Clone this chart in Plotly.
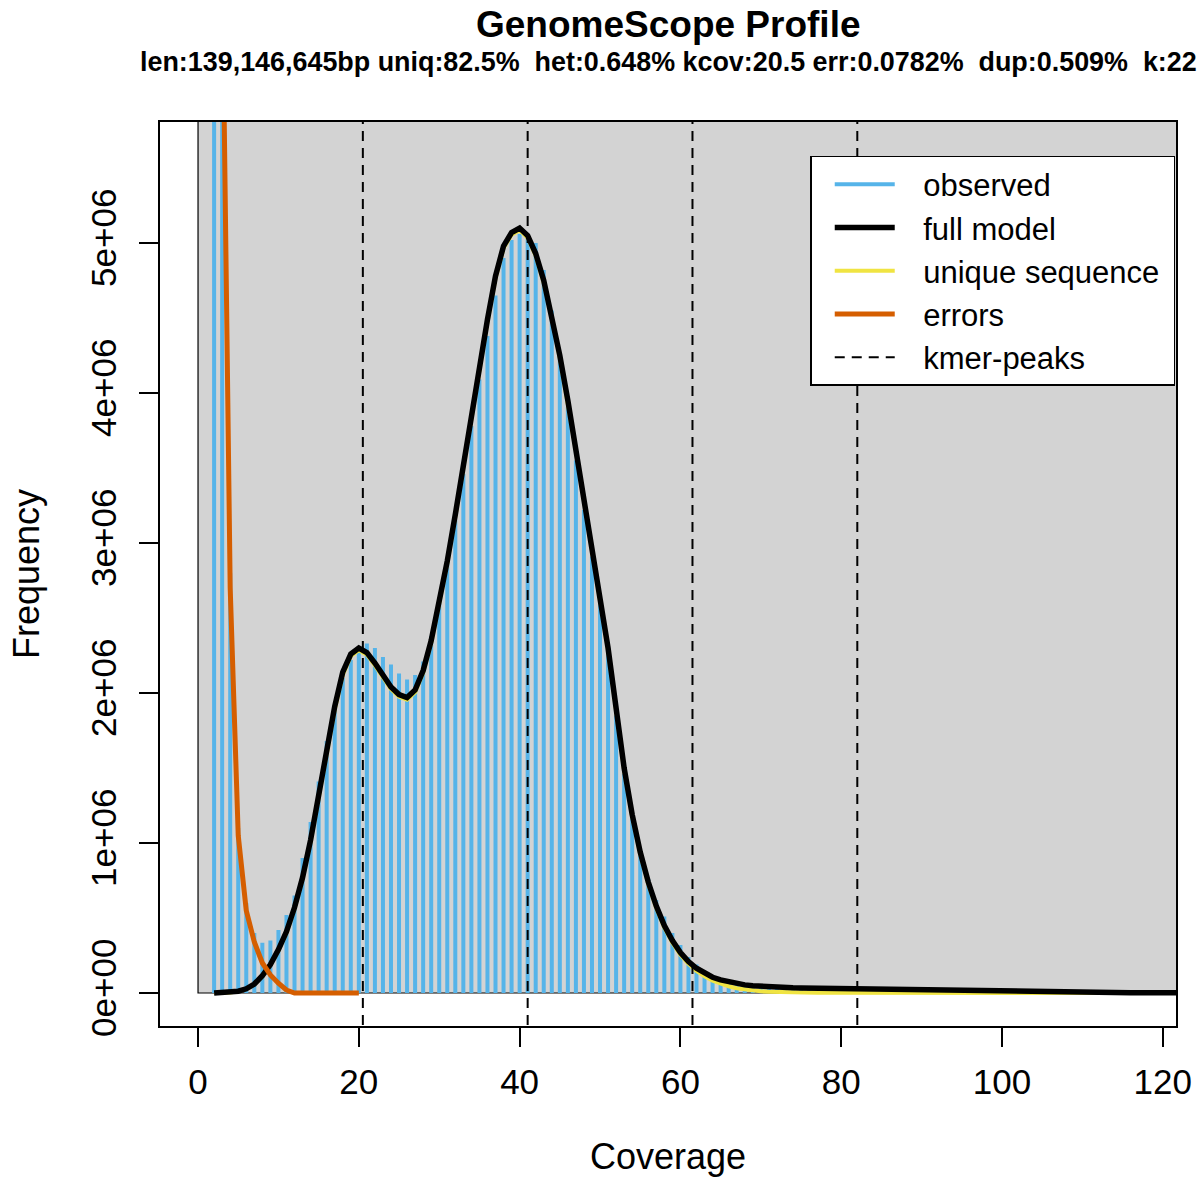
import plotly.graph_objects as go

# ---------------- data (values in k-mer counts) ----------------
coverage = list(range(2, 121))

observed = [
    12.0, 7.0, 2.8, 1.1, 0.60, 0.40, 0.335, 0.35, 0.42, 0.52,      # 2-11
    0.65, 0.90, 1.14, 1.41, 1.68, 1.91, 2.10, 2.22, 2.28, 2.33,     # 12-21
    2.30, 2.24, 2.19, 2.13, 2.09, 2.12, 2.21, 2.38, 2.61, 2.89,     # 22-31
    3.15, 3.46, 3.78, 4.09, 4.38, 4.65, 4.90, 5.02, 5.06, 5.04,     # 32-41
    5.00, 4.82, 4.55, 4.24, 3.91, 3.55, 3.22, 2.91, 2.62, 2.29,     # 42-51
    1.85, 1.46, 1.18, 0.95, 0.76, 0.62, 0.51, 0.40, 0.32, 0.24,     # 52-61
    0.19, 0.14, 0.113, 0.091, 0.075, 0.064, 0.060, 0.057, 0.054, 0.050,  # 62-71
    0.047, 0.045, 0.042, 0.040, 0.036, 0.034, 0.032, 0.031, 0.030, 0.029,  # 72-81
    0.028, 0.028, 0.027, 0.026, 0.025, 0.024, 0.023, 0.022, 0.021, 0.020,  # 82-91
    0.019, 0.018, 0.017, 0.016, 0.015, 0.014, 0.013, 0.012, 0.011, 0.010,  # 92-101
    0.009, 0.008, 0.008, 0.007, 0.006, 0.006, 0.005, 0.005, 0.004, 0.004,  # 102-111
    0.003, 0.003, 0.003, 0.002, 0.002, 0.002, 0.002, 0.001, 0.001,         # 112-120
]

model_cov = list(range(2, 123))
full_model = [
    0.000, 0.001, 0.004, 0.012, 0.028, 0.060, 0.115, 0.19, 0.29, 0.41,   # 2-11
    0.57, 0.77, 1.02, 1.31, 1.62, 1.91, 2.14, 2.26, 2.30, 2.27,          # 12-21
    2.20, 2.12, 2.04, 1.99, 1.97, 2.02, 2.15, 2.35, 2.60, 2.88,          # 22-31
    3.19, 3.52, 3.86, 4.18, 4.49, 4.78, 4.98, 5.07, 5.10, 5.05,          # 32-41
    4.93, 4.75, 4.52, 4.25, 3.95, 3.63, 3.30, 2.97, 2.64, 2.30,          # 42-51
    1.90, 1.50, 1.19, 0.94, 0.74, 0.58, 0.45, 0.35, 0.27, 0.21,          # 52-61
    0.165, 0.13, 0.105, 0.087, 0.073, 0.062, 0.054, 0.048, 0.044, 0.041, # 62-71
    0.039, 0.037, 0.035, 0.034, 0.033, 0.032, 0.031, 0.030, 0.030, 0.029,  # 72-81
    0.029, 0.028, 0.028, 0.027, 0.026, 0.025, 0.024, 0.023, 0.022, 0.021,  # 82-91
    0.019, 0.018, 0.017, 0.016, 0.015, 0.014, 0.013, 0.012, 0.011, 0.010,  # 92-101
    0.009, 0.008, 0.008, 0.007, 0.006, 0.006, 0.005, 0.005, 0.004, 0.004,  # 102-111
    0.003, 0.003, 0.003, 0.002, 0.002, 0.002, 0.002, 0.001, 0.001, 0.001, 0.001,  # 112-122
]

unique_seq = [
    0.000, 0.001, 0.004, 0.011, 0.026, 0.057, 0.111, 0.185, 0.283, 0.40,  # 2-11
    0.56, 0.76, 1.01, 1.30, 1.61, 1.89, 2.12, 2.245, 2.285, 2.255,        # 12-21
    2.185, 2.105, 2.025, 1.975, 1.955, 2.005, 2.135, 2.335, 2.585, 2.865, # 22-31
    3.175, 3.505, 3.845, 4.165, 4.475, 4.765, 4.965, 5.055, 5.085, 5.035, # 32-41
    4.915, 4.735, 4.505, 4.235, 3.935, 3.615, 3.285, 2.955, 2.625, 2.285, # 42-51
    1.885, 1.485, 1.177, 0.928, 0.728, 0.567, 0.436, 0.335, 0.255, 0.194, # 52-61
    0.148, 0.111, 0.083, 0.062, 0.045, 0.032, 0.023, 0.016, 0.011, 0.008, # 62-71
    0.006, 0.004, 0.003, 0.002, 0.002, 0.001, 0.001, 0.001, 0.000, 0.000, # 72-81
    0.000, 0.000, 0.000, 0.000, 0.000, 0.000, 0.000, 0.000, 0.000, 0.000, # 82-91
    0.000, 0.000, 0.000, 0.000, 0.000, 0.000, 0.000, 0.000, 0.000, 0.000, # 92-101
    0.000, 0.000, 0.000, 0.000, 0.000, 0.000, 0.000, 0.000, 0.000, 0.000, # 102-111
    0.000, 0.000, 0.000, 0.000, 0.000, 0.000, 0.000, 0.000, 0.000, 0.000, 0.000,  # 112-122
]

error_cov = list(range(2, 21))
errors = [16.0, 6.9, 2.7, 1.05, 0.55, 0.34, 0.20, 0.12, 0.065, 0.02,
          0.0, 0.0, 0.0, 0.0, 0.0, 0.0, 0.0, 0.0, 0.0]

kmer_peaks = [20.5, 41.0, 61.5, 82.0]

x_ticks = [0, 20, 40, 60, 80, 100, 120]
y_ticks = [0, 1e6, 2e6, 3e6, 4e6, 5e6]
y_tick_labels = ["0e+00", "1e+06", "2e+06", "3e+06", "4e+06", "5e+06"]

legend_names = ["observed", "full model", "unique sequence", "errors", "kmer-peaks"]

title_text = "GenomeScope Profile"
subtitle_text = ("len:139,146,645bp uniq:82.5%  het:0.648% kcov:20.5 "
                 "err:0.0782%  dup:0.509%  k:22")

SCALE = 1e6
x_range = [-4.73, 121.64]
y_range = [-0.22e6, 5.807e6]

# ---------------- styling ----------------
FONT = "Liberation Sans, Arial, Helvetica, sans-serif"
C_OBS = "#56B4E9"
C_FULL = "#000000"
C_UNIQ = "#F0E442"
C_ERR = "#D55E00"

GAP = "\u00a0\u00a0\u2009"   # gap between legend key and label
NB = "\u00a0"


def lname(i, trail=""):
    return GAP + legend_names[i] + trail


fig = go.Figure()

# observed: vertical "h"-type lines
obs_x, obs_y = [], []
for c, v in zip(coverage, observed):
    obs_x += [c, c, None]
    obs_y += [0, v * SCALE, None]
fig.add_trace(go.Scatter(
    x=obs_x, y=obs_y, mode="lines", name=lname(0),
    line=dict(color=C_OBS, width=4), connectgaps=False, legendrank=1,
))

fig.add_trace(go.Scatter(
    x=model_cov, y=[v * SCALE for v in unique_seq], mode="lines",
    name=lname(2, NB), line=dict(color=C_UNIQ, width=4), legendrank=3,
))
fig.add_trace(go.Scatter(
    x=model_cov, y=[v * SCALE for v in full_model], mode="lines",
    name=lname(1), line=dict(color=C_FULL, width=5.5), legendrank=2,
))
fig.add_trace(go.Scatter(
    x=error_cov, y=[v * SCALE for v in errors], mode="lines",
    name=lname(3), line=dict(color=C_ERR, width=5), legendrank=4,
))

pk_x, pk_y = [], []
for p in kmer_peaks:
    pk_x += [p, p, None]
    pk_y += [y_range[0] * 2, y_range[1] * 2, None]
fig.add_trace(go.Scatter(
    x=pk_x, y=pk_y, mode="lines", name=lname(4),
    line=dict(color="black", width=2, dash="10px,7px"), connectgaps=False,
    legendrank=5,
))

# grey panel starting at the origin
fig.add_shape(
    type="rect", xref="x", yref="y", x0=0, x1=x_range[1] * 2,
    y0=0, y1=y_range[1] * 2, fillcolor="#D3D3D3",
    line=dict(color="black", width=1.2), layer="below",
)

axis_common = dict(
    showline=True, linecolor="black", linewidth=1.5, mirror=True,
    ticks="outside", ticklen=19, tickwidth=1.5, tickcolor="black",
    showgrid=False, zeroline=False,
    tickfont=dict(family=FONT, size=35, color="black"),
)

fig.update_xaxes(range=x_range, tickvals=x_ticks,
                 ticktext=[str(t) for t in x_ticks],
                 ticklabelstandoff=5, **axis_common)
fig.update_yaxes(range=y_range, tickvals=y_ticks, ticktext=y_tick_labels,
                 tickangle=-90, ticklabelstandoff=9, **axis_common)

fig.update_layout(
    width=1202, height=1180,
    margin=dict(l=160, r=26, t=122, b=154, autoexpand=False),
    plot_bgcolor="white", paper_bgcolor="white",
    font=dict(family=FONT, color="black"),
    showlegend=True,
    legend=dict(
        x=0.640, y=0.9624, xanchor="left", yanchor="top",
        bgcolor="white", bordercolor="black", borderwidth=1.5,
        font=dict(family=FONT, size=31, color="black"),
        itemwidth=60, tracegroupgap=0, indentation=18,
    ),
    annotations=[
        dict(text="<b>" + title_text + "</b>", xref="paper", yref="paper",
             x=0.5, y=1.1084, xanchor="center", yanchor="middle",
             showarrow=False, font=dict(family=FONT, size=37, color="black")),
        dict(text="<b>" + subtitle_text + "</b>", xref="paper", yref="paper",
             x=0.5, y=1.0664, xanchor="center", yanchor="middle",
             showarrow=False, font=dict(family=FONT, size=26.9, color="black")),
        dict(text="Coverage", xref="paper", yref="paper",
             x=0.5, y=-0.1449, xanchor="center", yanchor="middle",
             showarrow=False, font=dict(family=FONT, size=36, color="black")),
        dict(text="Frequency", xref="paper", yref="paper",
             x=-0.1319, y=0.5, xanchor="center", yanchor="middle",
             textangle=-90, showarrow=False,
             font=dict(family=FONT, size=36, color="black")),
    ],
)

fig.write_html("out.html",
               config={"displayModeBar": False},
               post_script="document.body.style.margin='0px';")
